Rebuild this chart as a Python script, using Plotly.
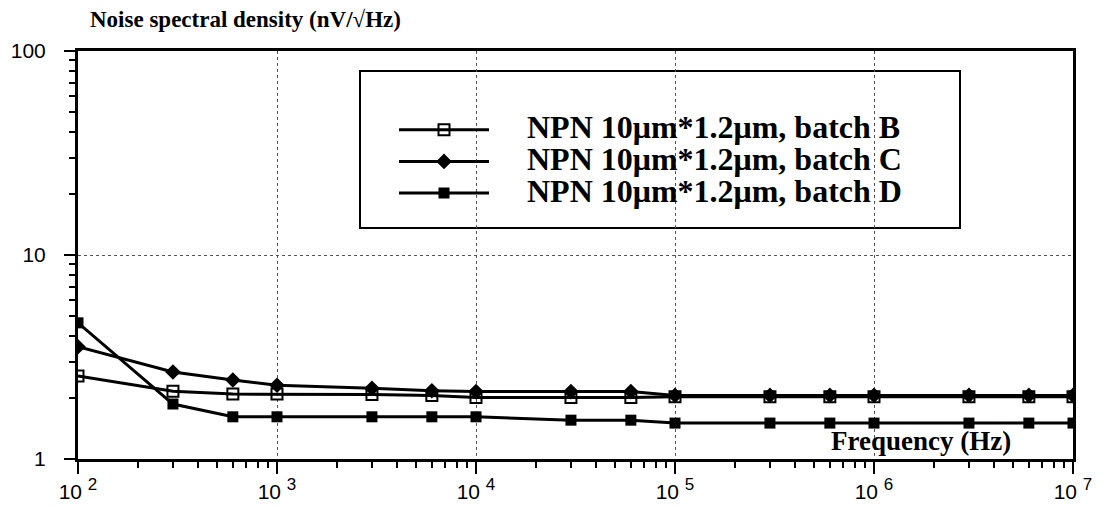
import plotly.graph_objects as go

freq = [100, 300, 600, 1000, 3000, 6000, 1e4, 3e4, 6e4, 1e5, 3e5, 6e5, 1e6, 3e6, 6e6, 1e7]
batch_b = [2.55, 2.15, 2.08, 2.08, 2.07, 2.05, 2.0, 2.0, 2.0, 2.02, 2.02, 2.02, 2.02, 2.02, 2.02, 2.02]
batch_c = [3.55, 2.67, 2.44, 2.3, 2.22, 2.16, 2.14, 2.14, 2.14, 2.05, 2.05, 2.05, 2.05, 2.05, 2.05, 2.05]
batch_d = [4.65, 1.86, 1.61, 1.61, 1.61, 1.61, 1.61, 1.55, 1.55, 1.5, 1.5, 1.5, 1.5, 1.5, 1.5, 1.5]

names = ["NPN 10μm*1.2μm, batch B", "NPN 10μm*1.2μm, batch C", "NPN 10μm*1.2μm, batch D"]
x_tickvals = [1e2, 1e3, 1e4, 1e5, 1e6, 1e7]
x_exponents = ["2", "3", "4", "5", "6", "7"]
x_ticktext = ['10&nbsp;<sup><span style="font-size:17px">' + e + '</span></sup>' for e in x_exponents]
y_tickvals = [1, 10, 100]
y_ticktext = ["1", "10", "100"]

x_minor = [m * 10 ** e for e in range(2, 7) for m in range(2, 10)]
y_minor = [m * 10 ** e for e in range(0, 2) for m in range(2, 10)]

fig = go.Figure()
fig.add_trace(go.Scatter(x=freq, y=batch_b, mode="lines+markers",
                         line=dict(color="black", width=3),
                         marker=dict(symbol="square-open", size=11, color="black", line=dict(width=2, color="black"))))
fig.add_trace(go.Scatter(x=freq, y=batch_c, mode="lines+markers",
                         line=dict(color="black", width=3),
                         marker=dict(symbol="diamond", size=12, color="black")))
fig.add_trace(go.Scatter(x=freq, y=batch_d, mode="lines+markers",
                         line=dict(color="black", width=3),
                         marker=dict(symbol="square", size=11, color="black")))
for tr, n in zip(fig.data, names):
    tr.name = '<span style="font-size:22px">&nbsp;&nbsp;&nbsp;&nbsp;&nbsp;&nbsp;</span><span style="font-size:32px"><b>' + n + '</b></span>'

# screen-pixel frame: plot area 78..1073 x, 51..459 y (page has 8px body offset)
X0, X1, Y0, Y1 = 78, 1073, 51, 459
OFF = 8
W, H = 1106, 506

def px(sx):
    return (sx - X0) / (X1 - X0)

def py(sy):
    return (Y1 - sy) / (Y1 - Y0)

fig.add_shape(type="rect", xref="paper", yref="paper",
              x0=px(360), x1=px(960), y0=py(228), y1=py(71),
              line=dict(color="black", width=2), fillcolor="white", layer="below")

fig.add_annotation(text="<b>Noise spectral density (nV/√Hz)</b>", xref="paper", yref="paper",
                   x=px(88), y=py(19), xanchor="left", yanchor="middle", showarrow=False,
                   font=dict(family="Liberation Serif", size=23, color="black"))
fig.add_annotation(text="<b>Frequency (Hz)</b>", xref="paper", yref="paper",
                   x=px(1013), y=py(441), xanchor="right", yanchor="middle", showarrow=False,
                   font=dict(family="Liberation Serif", size=27, color="black"))

fig.update_layout(
    width=W, height=H,
    margin=dict(l=X0 - OFF, r=W - X1 + OFF, t=Y0 - OFF, b=H - Y1 + OFF, autoexpand=False),
    paper_bgcolor="white", plot_bgcolor="white",
    showlegend=True,
    legend=dict(x=px(394), y=py(109), xanchor="left", yanchor="top",
                bgcolor="rgba(0,0,0,0)", borderwidth=0, itemwidth=90,
                tracegroupgap=0,
                font=dict(family="Liberation Serif", size=22, color="black")),
    font=dict(family="Liberation Sans", color="black"),
)

fig.update_xaxes(type="log", range=[2, 7], automargin=False,
                 tickmode="array", tickvals=x_tickvals, ticktext=x_ticktext,
                 ticks="outside", ticklen=12, tickwidth=2, tickcolor="black",
                 showline=True, linecolor="black", linewidth=3, mirror=True,
                 showgrid=True, gridcolor="#555", griddash="dot", gridwidth=1,
                 zeroline=False,
                 tickfont=dict(family="Liberation Sans", size=21, color="black"),
                 minor=dict(tickmode="array", tickvals=x_minor, ticks="outside", ticklen=6,
                            tickwidth=2, tickcolor="black", showgrid=False))
fig.update_yaxes(type="log", range=[0, 2], automargin=False,
                 tickmode="array", tickvals=y_tickvals, ticktext=y_ticktext,
                 ticks="outside", ticklen=11, tickwidth=2, tickcolor="black",
                 showline=True, linecolor="black", linewidth=3, mirror=True,
                 showgrid=True, gridcolor="#555", griddash="dot", gridwidth=1,
                 zeroline=False, ticklabelstandoff=14,
                 tickfont=dict(family="Liberation Sans", size=21, color="black"),
                 minor=dict(tickmode="array", tickvals=y_minor, ticks="outside", ticklen=6,
                            tickwidth=2, tickcolor="black", showgrid=False))

fig.write_html("out.html")
